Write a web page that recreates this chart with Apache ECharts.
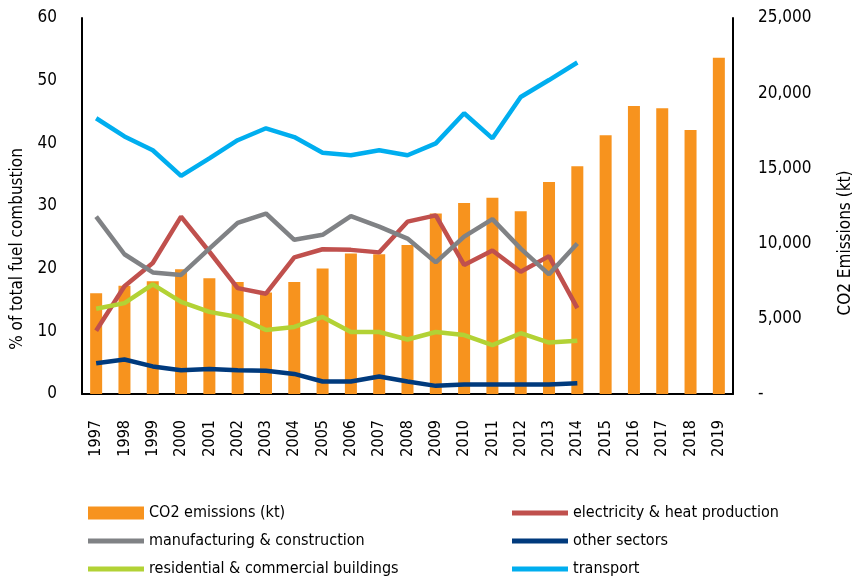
<!DOCTYPE html>
<html>
<head>
<meta charset="utf-8">
<script src="https://cdn.jsdelivr.net/npm/echarts@6/dist/echarts.min.js"></script>
<style>
html, body { margin: 0; padding: 0; background: #fff; }
#chart { width: 858px; height: 581px; }
</style>
</head>
<body>
<div id="chart"></div>
<script>
// data
const years = ['1997','1998','1999','2000','2001','2002','2003','2004','2005','2006','2007','2008','2009','2010','2011','2012','2013','2014','2015','2016','2017','2018','2019']
const co2 = [6700, 7200, 7500, 8300, 7700, 7450, 6750, 7450, 8350, 9350, 9300, 9900, 12000, 12700, 13050, 12150, 14100, 15150, 17200, 19150, 19000, 17550, 22350]
const electricity = [10.1, 17.2, 20.9, 28.3, 22.7, 16.9, 16.0, 21.8, 23.1, 23.0, 22.6, 27.5, 28.5, 20.6, 22.9, 19.5, 22.0, 13.7]
const manufacturing = [28.3, 22.3, 19.4, 19.0, 23.2, 27.3, 28.8, 24.6, 25.4, 28.4, 26.7, 24.8, 21.0, 25.1, 27.9, 23.2, 19.1, 24.0]
const otherSectors = [4.9, 5.5, 4.4, 3.8, 4.0, 3.8, 3.7, 3.2, 2.0, 2.0, 2.8, 2.0, 1.3, 1.5, 1.5, 1.5, 1.5, 1.7]
const residential = [13.6, 14.5, 17.5, 14.7, 13.1, 12.3, 10.2, 10.7, 12.3, 9.9, 9.9, 8.7, 9.9, 9.4, 7.8, 9.7, 8.2, 8.5]
const transport = [44.0, 41.1, 38.9, 34.8, 37.6, 40.5, 42.4, 41.0, 38.5, 38.1, 38.9, 38.1, 40.0, 44.8, 40.8, 47.4, 50.1, 52.9]

const font = "'DejaVu Sans Condensed', 'Liberation Sans Narrow', sans-serif"
const chart = echarts.init(document.getElementById('chart'))

// thin bar used as legend icon for the lines
const lineIcon = 'path://M0,0 L56,0 L56,5 L0,5 Z'

const lineSeries = (name, data, color) => ({
    name: name,
    type: 'line',
    yAxisIndex: 0,
    data: data,
    symbol: 'none',
    lineStyle: { width: 4.5, color: color },
    itemStyle: { color: color },
    z: 3
})

const legendText = { fontFamily: font, fontSize: 16, color: '#000', lineHeight: 18 }

const option = {
    animation: false,
    textStyle: { fontFamily: font },
    grid: { left: 82, right: 125, top: 18, bottom: 187 },
    xAxis: {
        type: 'category',
        data: years,
        axisLine: { lineStyle: { color: '#000', width: 2 } },
        axisTick: { show: false },
        axisLabel: { rotate: 90, margin: 26, fontSize: 16, color: '#000', fontFamily: font }
    },
    yAxis: [
        {
            type: 'value',
            min: 0, max: 60, interval: 10,
            splitLine: { show: false },
            axisLine: { show: true, lineStyle: { color: '#000', width: 2 } },
            axisTick: { show: false },
            axisLabel: { margin: 25, fontSize: 17, color: '#000', fontFamily: font }
        },
        {
            type: 'value',
            min: 0, max: 25000, interval: 5000,
            position: 'right',
            splitLine: { show: false },
            axisLine: { show: true, lineStyle: { color: '#000', width: 2 } },
            axisTick: { show: false },
            axisLabel: {
                margin: 25, fontSize: 17, color: '#000', fontFamily: font,
                formatter: v => v === 0 ? '-' : v.toLocaleString('en-US')
            }
        }
    ],
    legend: [
        {
            orient: 'vertical',
            left: 88, top: 504, padding: 0,
            itemWidth: 56, itemHeight: 13, itemGap: 10,
            textStyle: legendText,
            data: [
                { name: 'CO2 emissions (kt)', icon: 'rect' },
                { name: 'manufacturing & construction', icon: lineIcon },
                { name: 'residential & commercial buildings', icon: lineIcon }
            ]
        },
        {
            orient: 'vertical',
            left: 512, top: 504, padding: 0,
            itemWidth: 56, itemHeight: 13, itemGap: 10,
            textStyle: legendText,
            data: [
                { name: 'electricity & heat production', icon: lineIcon },
                { name: 'other sectors', icon: lineIcon },
                { name: 'transport', icon: lineIcon }
            ]
        }
    ],
    graphic: [
        {
            type: 'text', x: 18, y: 249, rotation: Math.PI / 2,
            style: { text: '% of total fuel combustion', fontSize: 17, fontFamily: font, fill: '#000', align: 'center', verticalAlign: 'middle' }
        },
        {
            type: 'text', x: 846, y: 243, rotation: Math.PI / 2,
            style: { text: 'CO2 Emissions (kt)', fontSize: 17, fontFamily: font, fill: '#000', align: 'center', verticalAlign: 'middle' }
        }
    ],
    series: [
        {
            name: 'CO2 emissions (kt)',
            type: 'bar',
            yAxisIndex: 1,
            data: co2,
            barWidth: 12,
            itemStyle: { color: '#F7931E' },
            z: 2
        },
        lineSeries('electricity & heat production', electricity, '#C0504D'),
        lineSeries('manufacturing & construction', manufacturing, '#808285'),
        lineSeries('other sectors', otherSectors, '#003A7D'),
        lineSeries('residential & commercial buildings', residential, '#B2D235'),
        lineSeries('transport', transport, '#00AEEF')
    ]
}
chart.setOption(option)
</script>
</body>
</html>
